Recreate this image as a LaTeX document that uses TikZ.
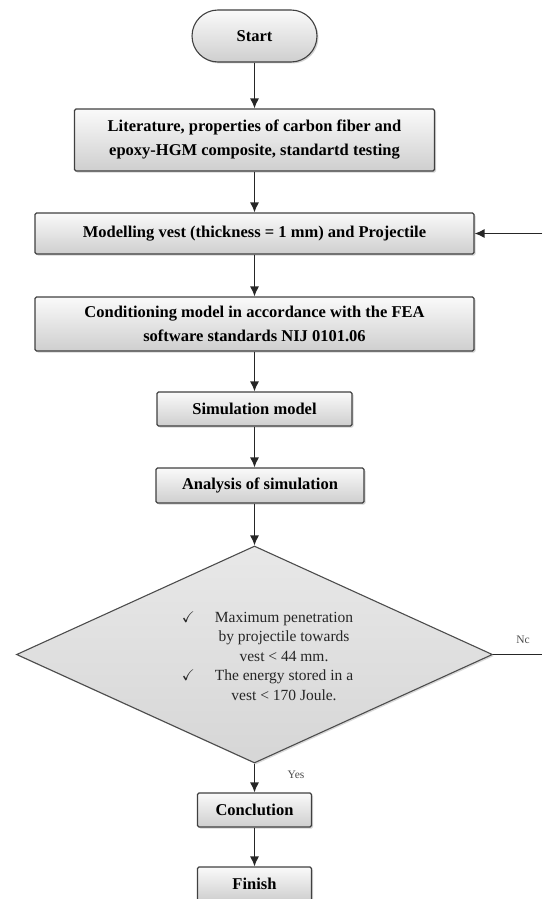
\documentclass[tikz,border=0pt]{standalone}
\usepackage{fontspec}
\setmainfont{Liberation Serif}
\usepackage{amssymb}
\usetikzlibrary{shapes.geometric,shadows,arrows.meta}
\tikzstyle{stepbox}=[draw=black!75, line width=1.1pt, rounded corners=1.5pt,
  top color=gray!4, bottom color=gray!38,
  drop shadow={shadow xshift=1.5pt, shadow yshift=-1.5pt, opacity=0.35},
  font=\fontsize{16.5}{24}\selectfont\bfseries, align=center, inner sep=0pt]
\tikzstyle{decide}=[diamond, draw=black!70, line width=1.1pt, inner sep=0pt,
  top color=gray!18, bottom color=gray!32,
  drop shadow={shadow xshift=1.5pt, shadow yshift=-1.5pt, opacity=0.3}]
\tikzstyle{flow}=[line width=1.3pt, color=black!85, fill=black!85, ->]
\tikzstyle{lbl}=[font=\fontsize{11.5}{13}\selectfont, text=black!70]

\begin{document}
\begin{tikzpicture}[x=1pt, y=-1pt, >={Latex[length=10pt,width=9pt,fill=black!85]}]
\useasboundingbox (0,0) rectangle (542,899);
% Boxes
    \node[stepbox, rounded corners=26pt, minimum width=125pt, minimum height=52pt] (start) at (254.5,36) {Start};
    \node[stepbox, minimum width=360pt, minimum height=62pt] (lit) at (254.5,140)
        {Literature, properties of carbon fiber and\\epoxy-HGM composite, standartd testing};
    \node[stepbox, minimum width=439pt, minimum height=41pt] (model) at (254.5,233.5)
        {Modelling vest (thickness = 1 mm) and Projectile};
    \node[stepbox, minimum width=439pt, minimum height=54pt] (cond) at (254.5,324)
        {Conditioning model in accordance with the FEA\\software standards NIJ 0101.06};
    \node[stepbox, minimum width=195pt, minimum height=34pt] (sim) at (254.5,409) {Simulation model};
    \node[stepbox, minimum width=208pt, minimum height=35pt] (anal) at (260,485.5) {Analysis of simulation};
% Decision
    \node[decide, minimum width=476pt, minimum height=217pt] (check) at (254.5,654.5) {};
    \node[font=\fontsize{15.5}{19.5}\selectfont, align=center, text=black!85] (crit) at (284,656)
        {\llap{$\checkmark$\hspace{20pt}}Maximum penetration\\by projectile towards\\vest < 44 mm.\\
         \llap{$\checkmark$\hspace{20pt}}The energy stored in a\\vest < 170 Joule.};
    \node[stepbox, minimum width=114pt, minimum height=34pt] (concl) at (254.5,810) {Conclution};
    \node[stepbox, minimum width=114pt, minimum height=34pt] (finish) at (254.5,884) {Finish};
% Free ends
    \coordinate (inR) at (542,233.5);
    \coordinate (noR) at (542,654.5);
% Arrows
    \draw[flow] (start.south) -- (lit.north);
    \draw[flow] (lit.south) -- (model.north);
    \draw[flow] (model.south) -- (cond.north);
    \draw[flow] (cond.south) -- (sim.north);
    \draw[flow] (sim.south) -- (sim.south |- anal.north);
    \draw[flow] (anal.south -| check.north) -- (check.north);
    \draw[flow] (check.south) -- (concl.north);
    \draw[flow] (concl.south) -- (finish.north);
    \draw[flow] (inR) -- (model.east);
    \draw[line width=1.3pt, black!85] (check.east) -- (noR);
% Labels
    \node[lbl] (nolbl) at (523,640) {Nc};
    \node[lbl] (yeslbl) at (296,775) {Yes};
\end{tikzpicture}
\end{document}
